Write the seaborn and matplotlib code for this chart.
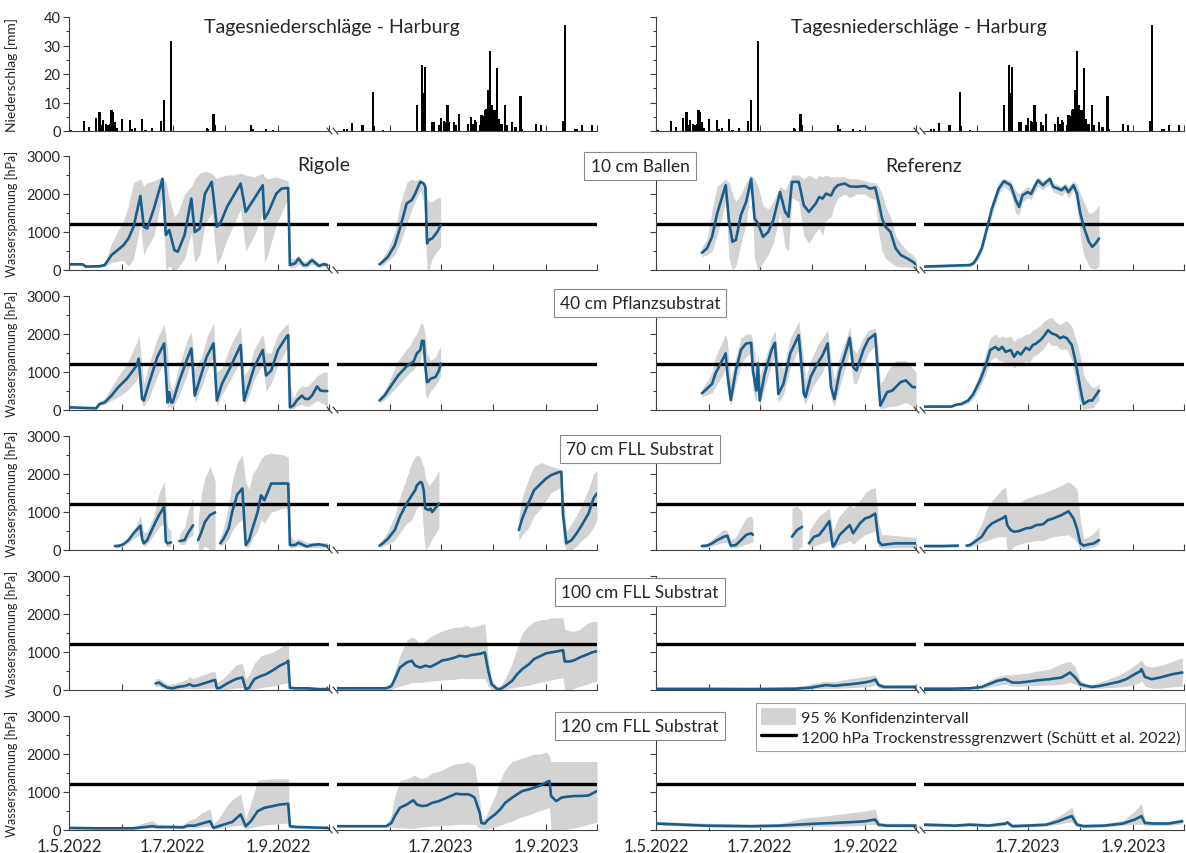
import matplotlib
matplotlib.use("Agg")
import numpy as np
import pandas as pd
import matplotlib.pyplot as plt
import seaborn as sns
from matplotlib.lines import Line2D
from matplotlib.patches import Patch

# ---------------------------------------------------------------------------
# data: x = days after 1 May of the season year
# each series: list of segments, segment = list of (day, mean, lower, upper)
# ---------------------------------------------------------------------------

rain22_day = [1, 9, 12, 16, 18, 19, 20, 22, 23, 24, 25, 26, 27, 28, 31, 36, 37, 39, 43, 45,
              49, 54, 56, 60, 81, 82, 85, 86, 107, 108, 116, 120]
rain22_mm = [0.3, 3.4, 1.4, 4.7, 6.7, 2.2, 3.7, 2.6, 2.2, 2.6, 7.5, 6.7, 3.2, 1.0, 4.3, 4.0, 0.8, 1.0, 4.1, 0.5,
             1.0, 3.4, 10.8, 31.5, 1.0, 0.8, 5.8, 2.2, 2.2, 0.8, 0.6, 0.5]

rain23_day = [4, 6, 9, 15, 21, 22, 27, 47, 50, 51, 52, 56, 57, 60, 61, 63, 64, 65, 66, 69,
              70, 72, 77, 79, 80, 81, 82, 84, 85, 86, 87, 88, 89, 90, 91, 92, 93, 94, 95, 96,
              97, 99, 100, 103, 105, 108, 109, 117, 120, 133, 134, 140, 141, 144, 150]
rain23_mm = [0.6, 0.6, 2.9, 2.2, 13.7, 1.8, 0.3, 9.0, 23.0, 13.5, 22.6, 3.2, 3.2, 2.0, 4.5, 3.4, 3.2, 9.2, 3.2, 3.2,
             2.0, 6.1, 2.6, 4.9, 2.6, 3.7, 3.2, 2.2, 5.5, 5.3, 7.3, 7.8, 14.3, 28.0, 9.2, 7.3, 7.3, 22.1, 4.3, 2.6,
             2.6, 9.2, 2.0, 3.2, 1.4, 12.2, 0.6, 2.6, 2.2, 3.5, 37.3, 0.8, 0.8, 2.0, 2.2]

# --- 10 cm Ballen
rig10_22 = [[
    (0, 150, 120, 190), (8, 150, 110, 180), (10, 90, 60, 120), (18, 100, 70, 140), (21, 130, 90, 170),
    (25, 390, 200, 700), (32, 650, 250, 1300), (35, 830, 100, 1700), (38, 1140, 300, 2300), (42, 1950, 1200, 2400),
    (44, 1140, 400, 2200), (46, 1090, 600, 2300), (50, 1620, 900, 2350), (55, 2400, 2000, 2450), (57, 920, 0, 2300),
    (59, 1050, 100, 1900), (62, 525, 0, 1400), (64, 480, 50, 1500), (68, 920, 300, 2000), (72, 1880, 1000, 2200),
    (74, 1000, 200, 2400), (77, 1090, 400, 2550), (80, 2010, 1200, 2600), (84, 2320, 1500, 2550), (87, 1140, 150, 2400),
    (89, 1225, 300, 2450), (93, 1660, 800, 2500), (97, 1970, 1200, 2500), (101, 2275, 1600, 2550), (104, 1530, 500, 2500),
    (109, 1880, 900, 2450), (114, 2230, 1500, 2550), (115, 1350, 200, 2450), (117, 1490, 400, 2400), (122, 2010, 1200, 2450),
    (125, 2140, 1500, 2400), (129, 2160, 1900, 2350), (130, 130, 50, 300), (133, 175, 80, 300), (135, 300, 150, 400),
    (138, 130, 60, 220), (140, 130, 60, 250), (143, 260, 150, 350), (147, 110, 60, 180), (150, 150, 100, 220),
    (152, 130, 80, 200),
]]
rig10_23 = [[
    (25, 150, 100, 200), (27, 220, 120, 350), (30, 350, 250, 550), (34, 650, 400, 1000), (37, 1090, 700, 1700),
    (41, 1750, 1200, 2300), (44, 1840, 1600, 2400), (46, 2010, 1800, 2350), (49, 2320, 2100, 2400), (51, 2275, 1800, 2300),
    (52, 2190, 1000, 2200), (53, 700, 0, 1900), (54, 790, 0, 1800), (56, 830, 300, 1800), (59, 1000, 500, 1900),
    (61, 1180, 600, 1900),
]]
ref10_22 = [[
    (27, 455, 350, 600), (30, 570, 400, 800), (33, 875, 500, 1600), (36, 1490, 900, 2200), (41, 2230, 1800, 2400),
    (43, 1270, 300, 2300), (45, 745, 0, 2000), (47, 790, 100, 1800), (50, 1450, 700, 2000), (53, 1790, 1200, 2300),
    (56, 2400, 2200, 2500), (58, 1360, 300, 2400), (60, 1225, 0, 2200), (63, 875, 200, 1700), (66, 1000, 400, 1600),
    (69, 1310, 700, 1800), (73, 2050, 1500, 2200), (76, 1530, 600, 2100), (78, 1400, 500, 2300), (80, 2320, 1900, 2500),
    (84, 2320, 1800, 2500), (87, 1700, 900, 2400), (90, 1530, 700, 2500), (94, 1750, 1000, 2400), (96, 1920, 1100, 2500),
    (98, 1880, 900, 2450), (100, 2010, 1300, 2500), (103, 1960, 1400, 2450), (105, 2140, 1700, 2450), (107, 2230, 1900, 2450),
    (111, 2275, 2000, 2450), (114, 2200, 1900, 2400), (118, 2190, 2000, 2400), (123, 2210, 2000, 2350), (126, 2140, 1900, 2300),
    (129, 2170, 1850, 2300), (131, 1790, 1000, 2200), (133, 1360, 500, 2000), (135, 1140, 300, 1700), (138, 1000, 200, 1400),
    (141, 570, 100, 900), (144, 395, 80, 700), (148, 300, 80, 500), (151, 220, 60, 400), (153, 150, 50, 300),
]]
ref10_23 = [[
    (0, 90, 60, 130), (27, 130, 90, 170), (29, 175, 120, 230), (31, 300, 220, 400), (34, 570, 450, 700),
    (37, 1090, 950, 1250), (40, 1620, 1450, 1800), (44, 2140, 2000, 2300), (47, 2340, 2200, 2400), (51, 2230, 2050, 2350),
    (54, 1840, 1500, 2100), (56, 1660, 1450, 2000), (58, 1970, 1800, 2100), (61, 2050, 1900, 2200), (63, 2000, 1850, 2150),
    (65, 2190, 2050, 2300), (67, 2360, 2200, 2450), (70, 2230, 2100, 2350), (72, 2320, 2200, 2400), (74, 2400, 2250, 2450),
    (76, 2190, 2050, 2300), (79, 2140, 2000, 2250), (81, 2100, 1950, 2200), (83, 2190, 2050, 2300), (85, 2050, 1900, 2200),
    (88, 2230, 2100, 2350), (90, 2010, 1700, 2250), (92, 1490, 900, 2000), (94, 1140, 400, 1800), (97, 745, 100, 1500),
    (99, 610, 30, 1500), (101, 700, 30, 1600), (103, 830, 100, 1700),
]]

# --- 40 cm Pflanzsubstrat
rig40_22 = [[
    (0, 70, 40, 100), (16, 45, 20, 80), (18, 160, 120, 200), (21, 200, 150, 300), (25, 380, 250, 600),
    (29, 600, 350, 900), (34, 820, 500, 1200), (37, 1000, 650, 1500), (40, 1180, 800, 1800), (41, 1350, 1000, 2000),
    (43, 290, 150, 1200), (44, 250, 100, 700), (47, 690, 300, 1200), (52, 1400, 900, 1900), (56, 1750, 1300, 2250),
    (58, 200, 50, 1600), (59, 470, 100, 800), (60, 200, 50, 600), (61, 200, 80, 500), (65, 780, 400, 1200),
    (70, 1400, 1000, 1900), (72, 1620, 1300, 2050), (74, 380, 200, 1100), (78, 960, 600, 1400), (81, 1400, 1000, 1900),
    (85, 1750, 1400, 2280), (87, 250, 100, 1000), (90, 690, 400, 1100), (95, 1130, 800, 1700), (101, 1710, 1300, 2200),
    (103, 250, 100, 900), (106, 690, 400, 1100), (109, 1130, 800, 1600), (114, 1580, 1200, 2000), (116, 910, 500, 1500),
    (119, 1040, 700, 1500), (123, 1580, 1200, 2000), (128, 1930, 1600, 2250), (129, 1970, 1700, 2280), (130, 70, 20, 700),
    (132, 115, 30, 300), (134, 250, 100, 500), (137, 380, 150, 650), (139, 290, 100, 600), (141, 290, 100, 650),
    (143, 380, 150, 750), (146, 620, 250, 900), (148, 510, 200, 950), (150, 500, 150, 1000), (152, 500, 100, 1000),
]]
rig40_23 = [[
    (25, 250, 180, 350), (28, 380, 280, 500), (32, 650, 450, 900), (36, 910, 650, 1300), (41, 1150, 900, 1600),
    (43, 1220, 1000, 1700), (45, 1270, 1050, 1900), (47, 1490, 1200, 2000), (49, 1580, 1300, 2250), (50, 1820, 1500, 2300),
    (51, 1820, 1300, 2200), (52, 1150, 400, 1900), (53, 730, 300, 1500), (54, 760, 400, 1400), (55, 820, 500, 1300),
    (58, 870, 650, 1400), (60, 1040, 800, 1600), (61, 1220, 900, 1650),
]]
ref40_22 = [[
    (27, 440, 350, 550), (30, 560, 400, 750), (33, 690, 450, 1000), (35, 960, 600, 1400), (39, 1310, 900, 1800),
    (41, 1490, 1100, 2000), (42, 960, 500, 1800), (44, 265, 100, 800), (47, 1040, 700, 1400), (50, 1580, 1200, 1900),
    (53, 1750, 1400, 2000), (56, 1770, 1500, 2000), (57, 1040, 500, 1800), (59, 510, 200, 1200), (60, 1220, 700, 1500),
    (61, 250, 100, 900), (64, 960, 600, 1300), (68, 1580, 1200, 1900), (70, 1770, 1500, 2100), (72, 420, 200, 1200),
    (75, 690, 400, 1100), (79, 1490, 1100, 1900), (84, 1970, 1600, 2330), (87, 420, 200, 1300), (88, 340, 150, 800),
    (91, 870, 500, 1300), (95, 1220, 800, 1700), (98, 1440, 1000, 1900), (101, 1750, 1400, 2100), (103, 600, 300, 1300),
    (105, 290, 100, 800), (108, 1000, 600, 1400), (112, 1580, 1200, 1900), (114, 1900, 1600, 2200), (116, 1130, 700, 1600),
    (118, 1040, 700, 1500), (122, 1580, 1200, 1900), (125, 1860, 1500, 2100), (129, 2000, 1700, 2150), (131, 690, 200, 1500),
    (132, 115, 30, 700), (134, 290, 50, 800), (136, 470, 80, 1000), (139, 510, 100, 1200), (141, 600, 100, 1300),
    (144, 735, 150, 1300), (147, 780, 200, 1300), (149, 690, 150, 1200), (151, 600, 100, 1100), (153, 600, 50, 1000),
]]
ref40_23 = [[
    (0, 90, 70, 110), (16, 90, 70, 120), (19, 140, 110, 180), (22, 160, 120, 200), (26, 250, 180, 320),
    (29, 420, 300, 550), (33, 780, 600, 1000), (36, 1130, 900, 1450), (39, 1580, 1300, 1900), (42, 1660, 1400, 2000),
    (44, 1580, 1300, 1900), (46, 1660, 1300, 1950), (48, 1530, 1200, 1900), (51, 1580, 1250, 1950), (53, 1400, 1100, 1800),
    (55, 1530, 1200, 1900), (57, 1460, 1150, 1900), (60, 1640, 1300, 2000), (62, 1580, 1250, 2000), (64, 1710, 1400, 2100),
    (66, 1750, 1450, 2150), (69, 1860, 1550, 2250), (71, 1970, 1650, 2350), (73, 2100, 1800, 2400), (75, 2020, 1700, 2450),
    (78, 1970, 1700, 2300), (80, 1890, 1600, 2250), (82, 1930, 1600, 2300), (84, 1890, 1600, 2350), (87, 1710, 1300, 2200),
    (89, 1310, 800, 1900), (91, 820, 300, 1600), (93, 340, 50, 1200), (94, 160, 20, 900), (97, 250, 50, 700),
    (99, 250, 50, 600), (101, 380, 150, 600), (103, 510, 250, 700),
]]

# --- 70 cm FLL Substrat
rig70_22 = [
    [(27, 105, 60, 150), (29, 105, 60, 170), (32, 150, 100, 200), (35, 260, 180, 350), (38, 440, 300, 500),
     (42, 640, 400, 900), (43, 300, 200, 700), (44, 175, 100, 450), (46, 260, 150, 500), (50, 650, 400, 900),
     (53, 920, 600, 1500), (56, 1140, 700, 1800), (57, 220, 100, 1200), (58, 175, 80, 600), (60, 200, 100, 500)],
    [(65, 235, 150, 400), (68, 260, 150, 600), (70, 440, 300, 1000), (73, 650, 400, 1400)],
    [(76, 260, 0, 800), (78, 480, 0, 1500), (80, 740, 100, 1900), (83, 920, 0, 2200), (86, 990, 0, 1800)],
    [(89, 175, 100, 300), (91, 300, 150, 600), (94, 570, 300, 1200), (96, 1000, 500, 1800), (99, 1460, 700, 2300),
     (102, 1620, 800, 2500), (104, 130, 50, 1800), (106, 260, 100, 1600), (108, 570, 300, 2000), (111, 1000, 500, 2200),
     (113, 1440, 800, 2400), (115, 1310, 700, 2500), (119, 1750, 1000, 2550), (126, 1750, 1100, 2500), (129, 1750, 1100, 2450),
     (130, 130, 50, 400), (133, 130, 80, 250), (135, 190, 100, 300), (138, 130, 80, 250), (140, 90, 60, 200),
     (143, 130, 60, 200), (147, 150, 60, 200), (152, 105, 50, 200)],
]
rig70_23 = [
    [(25, 115, 60, 200), (27, 175, 100, 300), (30, 300, 150, 500), (34, 525, 250, 900), (37, 875, 450, 1400),
     (41, 1225, 700, 1900), (44, 1440, 800, 2300), (46, 1575, 1000, 2450), (47, 1700, 1100, 2500), (49, 1790, 1200, 2450),
     (50, 1770, 1100, 2300), (51, 1575, 400, 2200), (52, 1090, 0, 1900), (54, 1050, 100, 1700), (55, 1090, 200, 1750),
     (56, 1000, 300, 1800), (59, 1160, 500, 2000), (60, 1225, 600, 2100)],
    [(107, 525, 250, 900), (109, 830, 400, 1400), (113, 1270, 600, 1900), (116, 1575, 900, 2200), (120, 1750, 1100, 2300),
     (123, 1880, 1300, 2250), (126, 1970, 1500, 2200), (130, 2040, 1600, 2150), (132, 2060, 1700, 2100), (133, 920, 200, 1500),
     (135, 175, 0, 500), (138, 260, 0, 700), (141, 440, 100, 900), (144, 650, 250, 1200), (148, 960, 400, 1600),
     (151, 1360, 600, 2000), (153, 1490, 800, 2100)],
]
ref70_22 = [
    [(27, 105, 60, 150), (30, 115, 70, 170), (33, 175, 100, 280), (36, 260, 150, 400), (40, 350, 200, 550),
     (42, 375, 200, 500), (44, 115, 50, 250), (47, 130, 60, 350), (50, 260, 100, 600), (53, 395, 150, 850),
     (56, 440, 200, 900), (57, 400, 200, 800)],
    [(80, 350, 0, 1100), (83, 525, 0, 1150), (86, 610, 100, 1000)],
    [(90, 175, 80, 500), (93, 350, 100, 700), (96, 395, 150, 900), (99, 570, 200, 1000), (102, 760, 250, 1100),
     (104, 90, 30, 500), (105, 130, 50, 600), (108, 395, 150, 900), (112, 570, 200, 1100), (114, 655, 250, 1200),
     (116, 440, 150, 1100), (120, 700, 300, 1300), (123, 830, 400, 1500), (126, 875, 450, 1600), (129, 960, 500, 1650),
     (131, 220, 80, 700), (133, 130, 50, 400), (136, 150, 50, 400), (141, 175, 60, 380), (148, 175, 60, 350),
     (153, 175, 60, 330)],
]
ref70_23 = [
    [(0, 105, 70, 140), (11, 105, 70, 140), (20, 115, 70, 150)],
    [(25, 115, 70, 150), (27, 130, 80, 170), (30, 220, 120, 350), (34, 350, 200, 700), (37, 570, 250, 1100),
     (40, 700, 300, 1300), (44, 790, 350, 1500), (46, 830, 350, 1600), (48, 890, 350, 1650), (49, 655, 0, 1300),
     (51, 525, 0, 1200), (53, 480, 100, 1200), (56, 500, 150, 1250), (60, 570, 200, 1350), (63, 585, 220, 1400),
     (66, 655, 250, 1450), (70, 675, 250, 1500), (73, 790, 300, 1550), (76, 830, 350, 1600), (81, 920, 380, 1700),
     (85, 1020, 400, 1800), (88, 830, 300, 1700), (90, 570, 200, 1600), (92, 175, 30, 800), (94, 115, 30, 300),
     (97, 150, 50, 350), (100, 175, 80, 450), (103, 260, 150, 600)],
]

# --- 100 cm FLL Substrat
rig100_22 = [[
    (51, 170, 80, 300), (53, 195, 100, 300), (55, 130, 50, 250), (58, 60, 20, 150), (61, 45, 10, 150),
    (64, 80, 20, 200), (68, 105, 30, 250), (71, 150, 40, 350), (73, 105, 30, 300), (76, 125, 30, 350),
    (79, 170, 40, 400), (84, 240, 50, 480), (86, 265, 60, 500), (87, 45, 10, 200), (89, 60, 10, 250),
    (93, 170, 20, 400), (96, 240, 40, 550), (98, 285, 50, 650), (102, 330, 60, 700), (104, 20, 0, 300),
    (106, 60, 0, 400), (109, 285, 30, 700), (113, 370, 60, 900), (116, 415, 80, 950), (120, 520, 100, 1000),
    (124, 640, 150, 1100), (128, 725, 180, 1250), (129, 770, 200, 1300), (130, 60, 20, 100), (133, 45, 20, 80),
    (140, 45, 10, 60), (147, 25, 10, 50), (152, 25, 10, 50),
]]
rig100_23 = [[
    (0, 45, 20, 80), (16, 45, 20, 80), (29, 45, 20, 100), (32, 105, 30, 200), (34, 285, 60, 500),
    (37, 590, 100, 900), (41, 725, 150, 1300), (44, 770, 200, 1400), (46, 640, 200, 1350), (49, 590, 200, 1200),
    (52, 640, 220, 1300), (55, 610, 230, 1400), (59, 700, 250, 1500), (62, 780, 260, 1550), (65, 800, 270, 1600),
    (69, 850, 280, 1650), (72, 900, 300, 1650), (76, 880, 300, 1700), (79, 920, 300, 1650), (84, 950, 300, 1700),
    (87, 990, 300, 1750), (89, 505, 100, 800), (91, 150, 20, 300), (94, 35, 0, 100), (96, 20, 0, 100),
    (99, 105, 20, 300), (103, 240, 50, 700), (106, 415, 80, 1100), (109, 550, 100, 1500), (113, 680, 130, 1700),
    (116, 815, 170, 1800), (120, 900, 200, 1850), (123, 965, 230, 1850), (126, 990, 260, 1900), (130, 1020, 300, 1900),
    (133, 1050, 320, 1900), (134, 750, 0, 1600), (137, 750, 0, 1550), (140, 790, 50, 1550), (143, 860, 100, 1600),
    (147, 930, 150, 1750), (150, 990, 200, 1800), (153, 1020, 230, 1800),
]]
ref100_22 = [[
    (0, 30, 10, 60), (29, 30, 10, 50), (56, 25, 10, 50), (82, 35, 20, 80), (87, 50, 20, 120),
    (91, 60, 30, 150), (96, 100, 40, 200), (100, 130, 40, 230), (105, 110, 40, 220), (109, 130, 50, 260),
    (114, 150, 60, 300), (118, 170, 70, 320), (123, 200, 80, 350), (127, 240, 100, 380), (129, 280, 150, 400),
    (131, 130, 50, 200), (134, 80, 40, 150), (141, 80, 40, 150), (153, 80, 40, 150),
]]
ref100_23 = [[
    (0, 35, 15, 60), (16, 35, 15, 60), (27, 45, 20, 70), (34, 80, 40, 130), (38, 150, 70, 250),
    (43, 240, 120, 350), (48, 285, 150, 400), (52, 195, 100, 400), (56, 195, 100, 420), (61, 220, 110, 450),
    (67, 255, 120, 500), (74, 285, 130, 550), (81, 330, 150, 700), (86, 460, 200, 750), (89, 330, 150, 600),
    (92, 150, 60, 250), (96, 105, 50, 150), (99, 80, 40, 150), (103, 105, 50, 200), (108, 150, 60, 280),
    (115, 220, 80, 400), (119, 285, 100, 500), (124, 415, 150, 650), (127, 485, 200, 750), (128, 550, 250, 800),
    (130, 345, 100, 650), (134, 285, 50, 600), (139, 330, 50, 650), (146, 415, 80, 750), (152, 460, 100, 850),
]]

# --- 120 cm FLL Substrat
rig120_22 = [[
    (0, 55, 30, 90), (16, 45, 20, 80), (27, 45, 20, 80), (38, 45, 20, 100), (45, 80, 40, 200),
    (49, 100, 50, 250), (52, 80, 40, 150), (59, 80, 40, 120), (67, 70, 40, 130), (70, 115, 50, 250),
    (74, 115, 60, 300), (78, 170, 80, 450), (83, 230, 100, 550), (85, 55, 20, 150), (88, 100, 40, 300),
    (93, 170, 80, 650), (96, 210, 100, 800), (101, 410, 120, 950), (104, 100, 30, 300), (107, 230, 60, 700),
    (111, 495, 100, 1300), (115, 585, 130, 1330), (120, 630, 150, 1350), (124, 670, 170, 1350), (129, 690, 180, 1350),
    (130, 100, 40, 130), (134, 80, 40, 110), (152, 55, 30, 100),
]]
rig120_23 = [[
    (0, 100, 80, 120), (16, 100, 80, 120), (29, 100, 80, 130), (32, 185, 80, 400), (34, 365, 70, 900),
    (37, 585, 60, 1300), (41, 670, 50, 1350), (44, 760, 40, 1400), (45, 780, 40, 1450), (47, 670, 60, 1400),
    (50, 630, 80, 1350), (53, 645, 90, 1400), (56, 715, 100, 1500), (60, 760, 110, 1550), (63, 820, 120, 1600),
    (67, 895, 130, 1700), (70, 955, 140, 1750), (73, 940, 150, 1750), (77, 940, 150, 1800), (79, 910, 150, 1750),
    (81, 850, 150, 1700), (84, 450, 50, 800), (85, 185, 30, 300), (87, 170, 30, 300), (89, 275, 40, 500),
    (93, 410, 80, 900), (96, 540, 120, 1300), (99, 715, 170, 1600), (103, 850, 230, 1800), (106, 940, 300, 1850),
    (109, 1025, 350, 1900), (113, 1070, 400, 1950), (116, 1115, 450, 2000), (120, 1180, 520, 2000), (123, 1250, 560, 2050),
    (125, 1290, 600, 1950), (126, 895, 0, 1800), (129, 760, 0, 1800), (132, 850, 0, 1800), (135, 875, 20, 1800),
    (140, 895, 60, 1800), (144, 895, 100, 1800), (148, 910, 150, 1800), (153, 1025, 200, 1800),
]]
ref120_22 = [[
    (0, 170, 130, 220), (29, 115, 80, 180), (56, 100, 60, 150), (73, 115, 70, 170), (87, 150, 80, 320),
    (96, 170, 90, 350), (105, 185, 100, 400), (114, 205, 110, 450), (123, 230, 130, 500), (129, 275, 150, 550),
    (131, 140, 90, 200), (136, 115, 80, 180), (153, 115, 70, 170),
]]
ref120_23 = [[
    (0, 140, 100, 200), (18, 115, 80, 170), (27, 140, 100, 200), (38, 115, 80, 170), (48, 170, 120, 230),
    (49, 200, 150, 260), (52, 100, 60, 160), (61, 115, 80, 170), (72, 140, 100, 200), (79, 230, 150, 350),
    (84, 320, 200, 500), (87, 365, 200, 600), (90, 140, 90, 200), (94, 100, 60, 160), (106, 115, 80, 170),
    (117, 170, 120, 250), (124, 275, 150, 500), (128, 365, 150, 700), (130, 185, 120, 250), (135, 170, 120, 230),
    (144, 170, 120, 230), (152, 230, 160, 300),
]]

depth_labels = ["10 cm Ballen", "40 cm Pflanzsubstrat", "70 cm FLL Substrat",
                "100 cm FLL Substrat", "120 cm FLL Substrat"]
rigole = [(rig10_22, rig10_23), (rig40_22, rig40_23), (rig70_22, rig70_23),
          (rig100_22, rig100_23), (rig120_22, rig120_23)]
referenz = [(ref10_22, ref10_23), (ref40_22, ref40_23), (ref70_22, ref70_23),
            (ref100_22, ref100_23), (ref120_22, ref120_23)]
site_titles = ["Rigole", "Referenz"]
threshold = 1200
season_days = 153  # 1.5. - 1.10.

# ---------------------------------------------------------------------------
BLUE = "#175e8c"
GRAY = "#d3d3d3"
AXC = "#404040"
W, H = 1186, 854

sns.set_style("ticks")
plt.rcParams["font.family"] = ["Lato", "DejaVu Sans"]
plt.rcParams["axes.linewidth"] = 0.8

fig = plt.figure(figsize=(W / 100, H / 100), dpi=100)

# pixel geometry: (x0_2022, x1_2022, x0_2023, x1_2023) per column
COLS = [(69, 329, 337, 597), (656, 916, 924, 1184)]
PRECIP_TB = (18, 132)
ROW_TOP, ROW_STEP, ROW_H = 157, 140, 114


def fx(px):
    return px / W


def fy(py):
    return 1 - py / H


def add_ax(x0, x1, top, bottom):
    return fig.add_axes([x0 / W, 1 - bottom / H, (x1 - x0) / W, (bottom - top) / H])


def season_day(date_str):
    d = pd.Timestamp(date_str)
    return (d - pd.Timestamp(year=d.year, month=5, day=1)).days


def tick_label(date_str):
    d = pd.Timestamp(date_str)
    return f"{d.day}.{d.month}.{d.year}"


def to_frame(segments):
    rows = []
    for i, seg in enumerate(segments):
        for day, mean, lo, hi in seg:
            rows.append({"day": day, "mean": mean, "lo": lo, "hi": hi, "seg": i})
    return pd.DataFrame(rows)


def style_axis(ax, year, first, ylabels, xlabels, ymax, ymajor):
    ax.set_xlim(0, season_days)
    ax.set_ylim(0, ymax)
    for side in ["top", "right"]:
        ax.spines[side].set_visible(False)
    for side in ["left", "bottom"]:
        ax.spines[side].set_color(AXC)
    if year == 2022:
        major = [f"{year}-05-01", f"{year}-07-01", f"{year}-09-01"]
    else:
        major = [f"{year}-07-01", f"{year}-09-01"]
    minor = [f"{year}-06-01", f"{year}-08-01", f"{year}-10-01"]
    ax.set_xticks([season_day(d) for d in major])
    ax.set_xticks([season_day(d) for d in minor], minor=True)
    if xlabels:
        ax.set_xticklabels([tick_label(d) for d in major], fontsize=12)
    else:
        ax.set_xticklabels([])
    ax.tick_params(axis="x", which="both", direction="in", length=4, width=0.8, color=AXC, pad=6)
    if first:
        ax.set_yticks(np.arange(0, ymax + 1, ymajor))
        ax.set_yticks(np.arange(ymajor / 2, ymax, ymajor), minor=True)
        ax.tick_params(axis="y", which="major", direction="out", length=4, width=0.8, color=AXC,
                       labelsize=10.5, pad=2)
        ax.tick_params(axis="y", which="minor", direction="out", length=2, width=0.8, color=AXC)
        if not ylabels:
            ax.set_yticklabels([])
    else:
        ax.spines["left"].set_visible(False)
        ax.set_yticks([])
    ax.set_xlabel("")
    ax.set_ylabel("")
    ax.patch.set_alpha(0)


def break_marks(x1, x2, bottom):
    xm = (x1 + x2) / 2
    for dx in (-3.5, 2.5):
        fig.add_artist(Line2D([fx(xm + dx - 2.5), fx(xm + dx + 2.5)], [fy(bottom - 3), fy(bottom + 3)],
                              color=AXC, lw=0.9))


def draw_tension(ax, segments):
    df = to_frame(segments)
    for _, part in df.groupby("seg"):
        ax.fill_between(part["day"], part["lo"], part["hi"], color=GRAY, lw=0, zorder=1)
    ax.axhline(threshold, color="black", lw=2.4, zorder=2)
    sns.lineplot(data=df, x="day", y="mean", units="seg", estimator=None, sort=True,
                 color=BLUE, lw=1.9, ax=ax, zorder=3)


# precipitation row
for c, (x0a, x1a, x0b, x1b) in enumerate(COLS):
    top, bottom = PRECIP_TB
    for (xa, xb), year, days, mm in [((x0a, x1a), 2022, rain22_day, rain22_mm),
                                     ((x0b, x1b), 2023, rain23_day, rain23_mm)]:
        ax = add_ax(xa, xb, top, bottom)
        sns.barplot(x=days, y=mm, native_scale=True, color="black", width=1.3,
                    errorbar=None, linewidth=0, saturation=1, ax=ax)
        style_axis(ax, year, year == 2022, c == 0, False, 40, 10)
    break_marks(x1a, x0b, bottom)
    fig.text(fx(x0a + 263), fy(27), "Tagesniederschläge - Harburg", ha="center", va="center", fontsize=14)

fig.text(fx(12), fy((PRECIP_TB[0] + PRECIP_TB[1]) / 2), "Niederschlag [mm]", rotation=90,
         ha="center", va="center", fontsize=10)

# water tension rows
for r in range(len(depth_labels)):
    top = ROW_TOP + r * ROW_STEP
    bottom = top + ROW_H
    for c, (site, (x0a, x1a, x0b, x1b)) in enumerate(zip([rigole, referenz], COLS)):
        s22, s23 = site[r]
        last = r == len(depth_labels) - 1
        ax = add_ax(x0a, x1a, top, bottom)
        draw_tension(ax, s22)
        style_axis(ax, 2022, True, c == 0, last, 3000, 1000)
        ax = add_ax(x0b, x1b, top, bottom)
        draw_tension(ax, s23)
        style_axis(ax, 2023, False, False, last, 3000, 1000)
        break_marks(x1a, x0b, bottom)
    fig.text(fx(12), fy(top + ROW_H / 2), "Wasserspannung [hPa]", rotation=90,
             ha="center", va="center", fontsize=9)

# titles for the two sites
fig.text(fx(324), fy(166), site_titles[0], ha="center", va="center", fontsize=14)
fig.text(fx(924), fy(166), site_titles[1], ha="center", va="center", fontsize=14)

# depth labels in boxes between the columns
label_y = [167, 304, 450, 593, 727]
for lab, yy in zip(depth_labels, label_y):
    fig.text(fx(640), fy(yy), lab, ha="center", va="center", fontsize=12.5, zorder=10,
             bbox=dict(boxstyle="square,pad=0.35", fc="white", ec="#8a8a8a", lw=0.8))

handles = [Patch(facecolor=GRAY, edgecolor="none"), Line2D([], [], color="black", lw=2.4)]
labels = ["95 % Konfidenzintervall", "1200 hPa Trockenstressgrenzwert (Schütt et al. 2022)"]
leg = fig.legend(handles, labels, loc="upper right", bbox_to_anchor=(fx(1185), fy(704)),
                 frameon=True, fancybox=False, fontsize=11.5, handlelength=2.2, handleheight=1.3,
                 borderpad=0.3, labelspacing=0.2, handletextpad=0.3, borderaxespad=0)
leg.get_frame().set_edgecolor("#8a8a8a")
leg.get_frame().set_linewidth(0.8)
leg.set_zorder(10)

fig.savefig("out.png", dpi=100)
